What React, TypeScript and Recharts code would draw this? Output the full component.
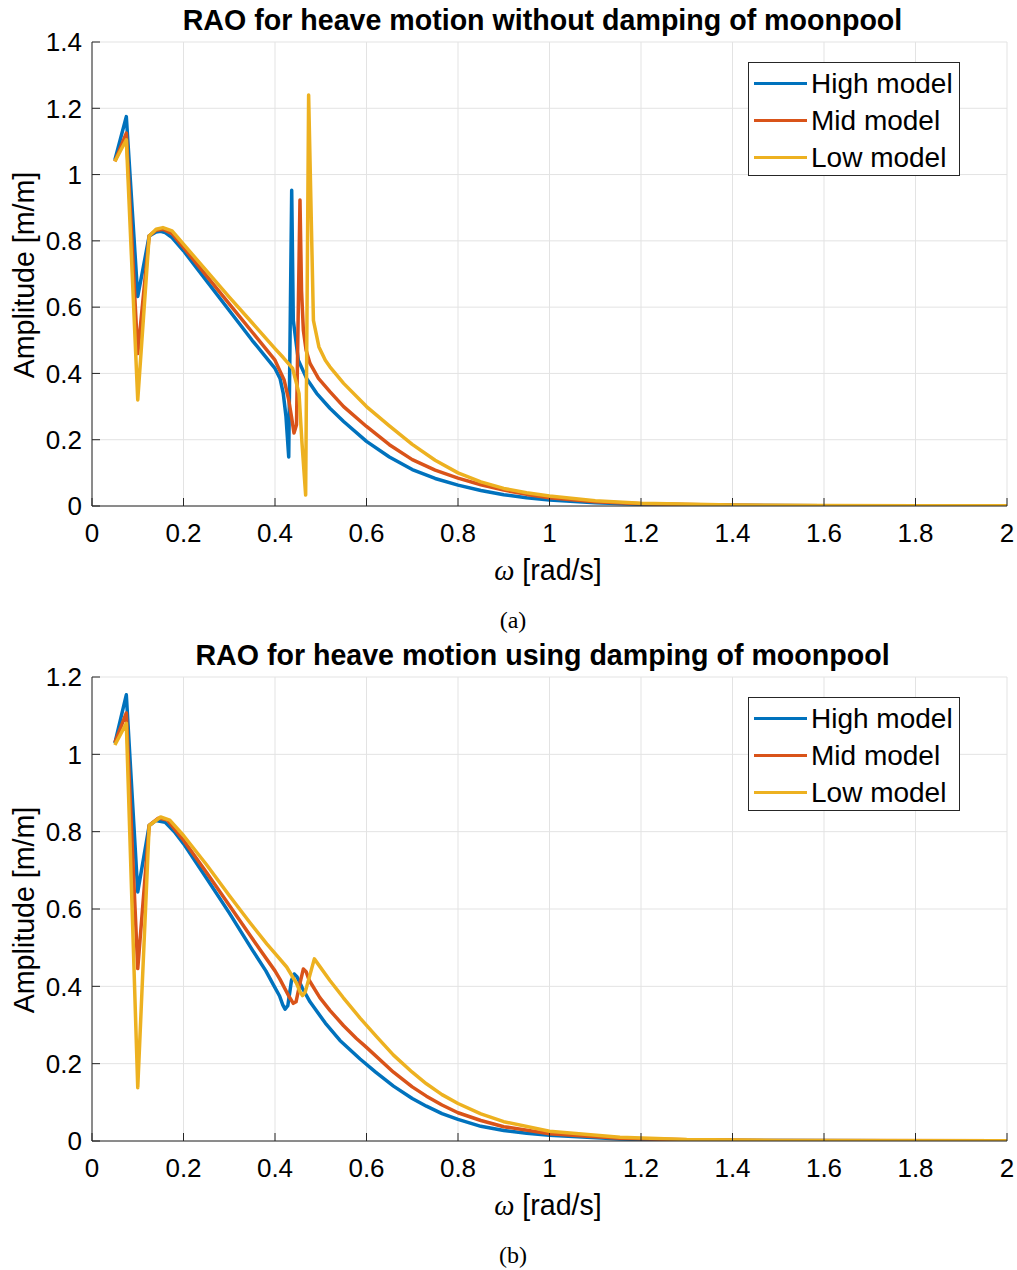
import React from "react";
import { LineChart, Line, XAxis, YAxis, CartesianGrid } from "recharts";

// omega [rad/s] and amplitude [m/m]
// (a) without damping of moonpool
const highA_w = [0.05, 0.075, 0.1, 0.125, 0.14, 0.15, 0.16, 0.175, 0.2, 0.25, 0.3, 0.35, 0.4, 0.411, 0.418, 0.424, 0.43, 0.4365, 0.44, 0.451, 0.469, 0.491, 0.52, 0.55, 0.6, 0.65, 0.7, 0.75, 0.8, 0.85, 0.9, 0.95, 1.0, 1.1, 1.2, 1.4, 1.6, 1.8, 2.0];
const highA_v = [1.044, 1.175, 0.632, 0.815, 0.827, 0.829, 0.825, 0.81, 0.77, 0.68, 0.59, 0.5, 0.415, 0.385, 0.34, 0.27, 0.148, 0.953, 0.56, 0.44, 0.385, 0.34, 0.295, 0.255, 0.195, 0.148, 0.11, 0.083, 0.063, 0.047, 0.034, 0.025, 0.018, 0.01, 0.005, 0.002, 0.001, 0.0005, 0.0003];

const midA_w = [0.05, 0.075, 0.1, 0.125, 0.14, 0.155, 0.175, 0.2, 0.25, 0.3, 0.35, 0.4, 0.41, 0.42, 0.43, 0.436, 0.4415, 0.447, 0.4546, 0.458, 0.462, 0.468, 0.4765, 0.495, 0.52, 0.55, 0.6, 0.65, 0.7, 0.75, 0.8, 0.85, 0.9, 0.95, 1.0, 1.1, 1.2, 1.4, 1.6, 1.8, 2.0];
const midA_v = [1.04, 1.125, 0.46, 0.815, 0.832, 0.835, 0.822, 0.78, 0.695, 0.61, 0.525, 0.44, 0.41, 0.38, 0.32, 0.27, 0.22, 0.245, 0.923, 0.65, 0.53, 0.47, 0.43, 0.385, 0.345, 0.3, 0.24, 0.185, 0.14, 0.108, 0.084, 0.064, 0.048, 0.035, 0.025, 0.013, 0.007, 0.002, 0.001, 0.0006, 0.0004];

const lowA_w = [0.05, 0.075, 0.1, 0.125, 0.14, 0.155, 0.175, 0.2, 0.25, 0.3, 0.35, 0.4, 0.418, 0.4385, 0.4525, 0.459, 0.467, 0.4735, 0.484, 0.496, 0.51, 0.52, 0.55, 0.6, 0.65, 0.7, 0.75, 0.8, 0.85, 0.9, 0.95, 1.0, 1.1, 1.2, 1.4, 1.6, 1.8, 2.0];
const lowA_v = [1.04, 1.105, 0.32, 0.815, 0.835, 0.84, 0.83, 0.79, 0.71, 0.63, 0.553, 0.475, 0.448, 0.415, 0.34, 0.19, 0.033, 1.24, 0.56, 0.48, 0.44, 0.42, 0.37, 0.3, 0.242, 0.186, 0.138, 0.1, 0.073, 0.053, 0.04, 0.03, 0.016, 0.008, 0.003, 0.0015, 0.0008, 0.0005];

// (b) using damping of moonpool
const highB_w = [0.05, 0.075, 0.1, 0.125, 0.14, 0.16, 0.18, 0.2, 0.25, 0.3, 0.35, 0.38, 0.396, 0.41, 0.417, 0.422, 0.428, 0.436, 0.442, 0.448, 0.46, 0.4765, 0.51, 0.542, 0.586, 0.62, 0.659, 0.7, 0.731, 0.765, 0.8, 0.85, 0.9, 0.95, 1.0, 1.154, 1.3, 1.5, 1.75, 2.0];
const highB_v = [1.029, 1.154, 0.644, 0.816, 0.829, 0.824, 0.8, 0.769, 0.68, 0.59, 0.495, 0.44, 0.405, 0.375, 0.352, 0.341, 0.35, 0.415, 0.432, 0.425, 0.395, 0.36, 0.305, 0.26, 0.212, 0.178, 0.142, 0.11, 0.09, 0.071, 0.056, 0.038, 0.027, 0.02, 0.015, 0.005, 0.002, 0.001, 0.0005, 0.0003];

const midB_w = [0.05, 0.075, 0.1, 0.125, 0.145, 0.165, 0.2, 0.25, 0.3, 0.345, 0.367, 0.4, 0.411, 0.43, 0.44, 0.446, 0.455, 0.462, 0.468, 0.475, 0.498, 0.52, 0.55, 0.578, 0.6, 0.659, 0.7, 0.731, 0.765, 0.8, 0.85, 0.9, 1.0, 1.154, 1.3, 1.5, 2.0];
const midB_v = [1.03, 1.107, 0.446, 0.816, 0.835, 0.83, 0.778, 0.695, 0.61, 0.533, 0.495, 0.44, 0.418, 0.375, 0.356, 0.36, 0.41, 0.445, 0.438, 0.415, 0.371, 0.338, 0.298, 0.265, 0.242, 0.178, 0.14, 0.116, 0.093, 0.073, 0.053, 0.037, 0.019, 0.007, 0.003, 0.001, 0.0004];

const lowB_w = [0.05, 0.075, 0.1, 0.125, 0.15, 0.17, 0.2, 0.25, 0.3, 0.345, 0.382, 0.4, 0.4255, 0.447, 0.455, 0.46, 0.466, 0.486, 0.52, 0.549, 0.586, 0.622, 0.659, 0.7, 0.731, 0.765, 0.8, 0.85, 0.9, 1.0, 1.154, 1.3, 1.5, 2.0];
const lowB_v = [1.024, 1.08, 0.138, 0.816, 0.838, 0.83, 0.79, 0.715, 0.635, 0.565, 0.51, 0.485, 0.45, 0.408, 0.385, 0.376, 0.385, 0.471, 0.415, 0.371, 0.318, 0.27, 0.222, 0.178, 0.148, 0.12, 0.097, 0.07, 0.05, 0.025, 0.01, 0.004, 0.0015, 0.0005];

const xTicks = [0, 0.2, 0.4, 0.6, 0.8, 1, 1.2, 1.4, 1.6, 1.8, 2];
const yTicksA = [0, 0.2, 0.4, 0.6, 0.8, 1, 1.2, 1.4];
const yTicksB = [0, 0.2, 0.4, 0.6, 0.8, 1, 1.2];

const names = ["High model", "Mid model", "Low model"];
const colors = ["#0072BD", "#D95319", "#EDB120"];

const sans = '"Liberation Sans", Arial, sans-serif';
const serif = '"Liberation Serif", "Times New Roman", serif';

const toRows = (w: number[], v: number[]) => w.map((x, i) => ({ w: x, v: v[i] }));

function Panel({ top, series, yMax, yTicks, title, caption }: {
    top: number;
    series: { w: number; v: number }[][];
    yMax: number;
    yTicks: number[];
    title: string;
    caption: string;
}) {
    const tickStyle = { fontSize: 26, fontFamily: sans, fill: "#000" };
    return (
        <div style={{ position: "absolute", left: 0, top, width: 1017, height: 635 }}>
            <LineChart width={1017} height={560} margin={{ top: 42, right: 10, bottom: 0, left: 0 }}>
                <CartesianGrid stroke="#e3e3e3" strokeWidth={1} />
                <XAxis
                    dataKey="w"
                    type="number"
                    domain={[0, 2]}
                    ticks={xTicks}
                    height={54}
                    tickSize={-8}
                    tickMargin={26}
                    stroke="#262626"
                    tick={tickStyle}
                    allowDataOverflow
                />
                <YAxis
                    type="number"
                    domain={[0, yMax]}
                    ticks={yTicks}
                    width={92}
                    tickSize={-8}
                    tickMargin={18}
                    stroke="#262626"
                    tick={tickStyle}
                    allowDataOverflow
                />
                {series.map((d, i) => (
                    <Line
                        key={names[i]}
                        data={d}
                        dataKey="v"
                        type="linear"
                        stroke={colors[i]}
                        strokeWidth={3.5}
                        strokeLinejoin="round"
                        dot={false}
                        isAnimationActive={false}
                    />
                ))}
            </LineChart>
            {/* title */}
            <div style={{ position: "absolute", left: 0, width: 1085, top: 3, textAlign: "center", fontFamily: sans, fontWeight: "bold", fontSize: 28.6, lineHeight: "34px" }}>
                {title}
            </div>
            {/* y label */}
            <div style={{ position: "absolute", left: 24, top: 275, fontFamily: sans, fontSize: 28.6, whiteSpace: "nowrap", transform: "translate(-50%, -50%) rotate(-90deg)" }}>
                Amplitude [m/m]
            </div>
            {/* x label */}
            <div style={{ position: "absolute", left: 0, width: 1096, top: 553, textAlign: "center", fontFamily: sans, fontSize: 28.6, lineHeight: "34px" }}>
                <span style={{ fontFamily: serif, fontStyle: "italic" }}>ω</span> [rad/s]
            </div>
            {/* caption */}
            <div style={{ position: "absolute", left: 0, width: 1026, top: 605, textAlign: "center", fontFamily: serif, fontSize: 24, lineHeight: "30px" }}>
                {caption}
            </div>
            {/* legend */}
            <div style={{ position: "absolute", left: 748, top: 62, width: 210, height: 112, border: "1px solid #262626", background: "#fff" }}>
                {names.map((n, i) => (
                    <div key={n} style={{ position: "absolute", left: 0, top: 2 + i * 37, height: 37, display: "flex", alignItems: "center" }}>
                        <span style={{ display: "inline-block", marginLeft: 5, width: 53, height: 3, background: colors[i] }} />
                        <span style={{ marginLeft: 4, fontFamily: sans, fontSize: 28, color: "#000", whiteSpace: "nowrap" }}>{n}</span>
                    </div>
                ))}
            </div>
        </div>
    );
}

export default function App() {
    return (
        <div style={{ position: "absolute", left: 0, top: 0, width: 1017, height: 1270, background: "#fff" }}>
            <Panel
                top={0}
                series={[toRows(highA_w, highA_v), toRows(midA_w, midA_v), toRows(lowA_w, lowA_v)]}
                yMax={1.4}
                yTicks={yTicksA}
                title="RAO for heave motion without damping of moonpool"
                caption="(a)"
            />
            <Panel
                top={635}
                series={[toRows(highB_w, highB_v), toRows(midB_w, midB_v), toRows(lowB_w, lowB_v)]}
                yMax={1.2}
                yTicks={yTicksB}
                title="RAO for heave motion using damping of moonpool"
                caption="(b)"
            />
        </div>
    );
}
